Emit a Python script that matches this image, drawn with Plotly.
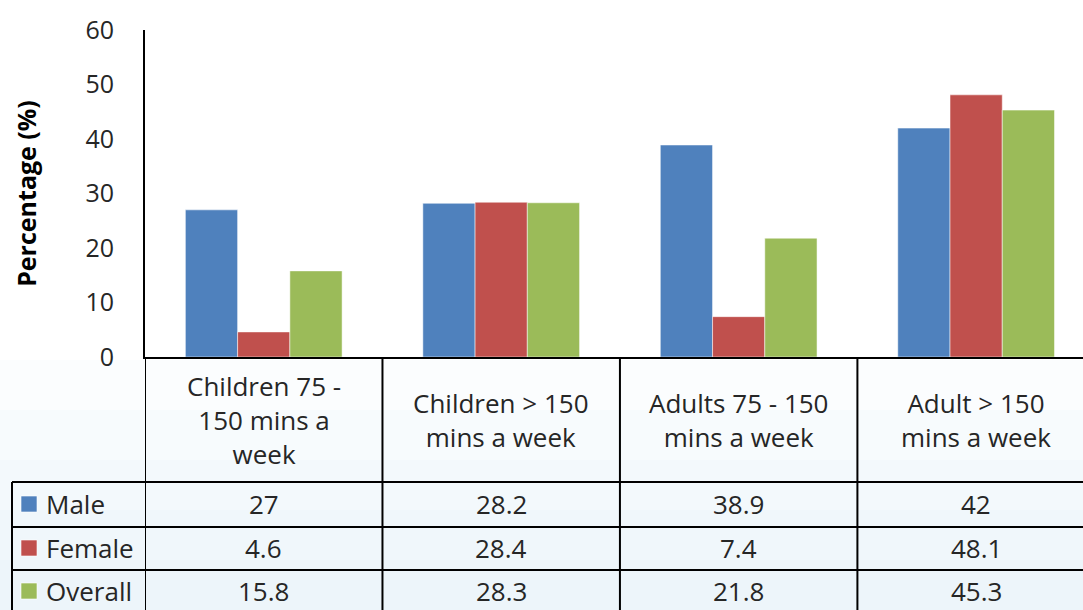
import plotly.graph_objects as go

categories = ["Children 75 -<br>150 mins a<br>week", "Children > 150<br>mins a week",
              "Adults 75 - 150<br>mins a week", "Adult > 150<br>mins a week"]
series_names = ["Male", "Female", "Overall"]
male = [27, 28.2, 38.9, 42]
female = [4.6, 28.4, 7.4, 48.1]
overall = [15.8, 28.3, 21.8, 45.3]
y_ticks = [0, 10, 20, 30, 40, 50, 60]

colors = ["#4F81BD", "#C0504D", "#9BBB59"]
FONT = "'Open Sans', Lato, sans-serif"
TXT = "#262626"
FS = 26

W, H = 1083, 610
L, T, B_PX = 145, 30, 357


def py(p):
    # pixel row -> paper y
    return (B_PX - p) / (B_PX - T)


def px(p):
    # pixel column -> paper x
    return (p - L) / (W - L)


fig = go.Figure()
values = [male, female, overall]
xs = list(range(len(categories)))
for name, vals, c in zip(series_names, values, colors):
    fig.add_trace(go.Bar(x=xs, y=vals, name=name, marker_color=c,
                         marker_line=dict(color="rgba(255,255,255,0.5)", width=1)))

shapes = []
# faint bluish wash toward the bottom
for top in [360, 410, 460, 510, 560]:
    shapes.append(dict(type="rect", xref="paper", yref="paper", x0=px(0), x1=1.05,
                       y0=py(top), y1=py(615), fillcolor="rgba(200,225,236,0.08)",
                       line=dict(width=0), layer="below"))

line = dict(color="black", width=2)
row_lines = [482, 527, 570]
for r in row_lines:
    shapes.append(dict(type="line", xref="paper", yref="paper", x0=px(12), x1=1.05,
                       y0=py(r), y1=py(r), line=line))
for i in range(len(categories)):
    shapes.append(dict(type="line", xref="x", yref="paper", x0=i - 0.5, x1=i - 0.5,
                       y0=0, y1=py(615), line=line))
shapes.append(dict(type="line", xref="paper", yref="paper", x0=px(12), x1=px(12),
                   y0=py(482), y1=py(615), line=line))

annotations = []
for i, cat in enumerate(categories):
    annotations.append(dict(x=i, y=py(420), xref="x", yref="paper", text=cat,
                            showarrow=False, xanchor="center", yanchor="middle",
                            font=dict(size=FS, color=TXT, family=FONT), align="center"))
row_centers = [504, 548, 591]
for r, (name, vals, c) in enumerate(zip(series_names, values, colors)):
    yc = row_centers[r]
    shapes.append(dict(type="rect", xref="paper", yref="paper", x0=px(21), x1=px(37),
                       y0=py(yc - 8), y1=py(yc + 8), fillcolor=c,
                       line=dict(color="rgba(255,255,255,0.6)", width=1)))
    annotations.append(dict(x=px(44), y=py(yc), xref="paper", yref="paper", text=name,
                            showarrow=False, xanchor="left", yanchor="middle",
                            font=dict(size=FS, color=TXT, family=FONT)))
    for i, v in enumerate(vals):
        annotations.append(dict(x=i, y=py(yc), xref="x", yref="paper", text=str(v),
                                showarrow=False, xanchor="center", yanchor="middle",
                                font=dict(size=FS, color=TXT, family=FONT)))

fig.update_layout(
    width=W, height=H,
    margin=dict(l=L, r=0, t=T, b=H - B_PX, autoexpand=False),
    barmode="group", bargap=0.34, bargroupgap=0,
    showlegend=False,
    paper_bgcolor="white", plot_bgcolor="rgba(0,0,0,0)",
    shapes=shapes, annotations=annotations,
    font=dict(family=FONT, color=TXT),
)
fig.update_xaxes(range=[-0.5, 3.45], showticklabels=False, showgrid=False,
                 showline=True, linecolor="black", linewidth=2, zeroline=False)
fig.update_yaxes(range=[0, 60], tickvals=y_ticks, showgrid=False, zeroline=False,
                 showline=True, linecolor="black", linewidth=2,
                 ticks="", ticklabelstandoff=24, automargin=False,
                 tickfont=dict(size=FS - 1, color=TXT, family=FONT),
                 title=dict(text="<b>Percentage (%)</b>", standoff=42,
                            font=dict(size=FS - 1, color="black", family=FONT)))

fig.write_html("out.html", config={"displayModeBar": False},
               post_script="document.body.style.margin='0';")
